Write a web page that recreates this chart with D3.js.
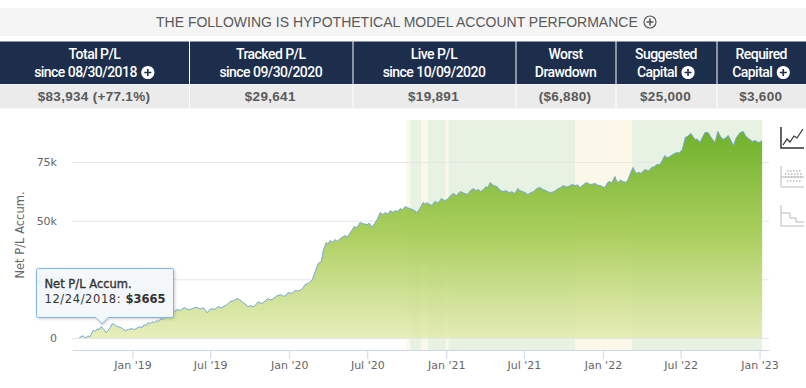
<!DOCTYPE html>
<html>
<head>
<meta charset="utf-8">
<script src="https://cdnjs.cloudflare.com/ajax/libs/d3/7.8.5/d3.min.js"></script>
<style>
	body { margin: 0; background: #fff; overflow: hidden; }
	svg { display: block; }
	.axisText { font-family: "DejaVu Sans", sans-serif; font-size: 11px; fill: #666; }
</style>
</head>
<body>
<div class="container"></div>
<script>
const WIDTH = 806
	, HEIGHT = 388
	, PLOT_LEFT = 72
	, PLOT_RIGHT = 769
	, PLOT_TOP = 120
	, AXIS_Y = 350
	, ZERO_Y = 338
	, TOP_TICK_Y = 162;

const headTitle = "THE FOLLOWING IS HYPOTHETICAL MODEL ACCOUNT PERFORMANCE";
const columnEdges = [0, 189, 352.5, 515.5, 615.5, 716.5, 806];
const headLine1 = ["Total P/L", "Tracked P/L", "Live P/L", "Worst", "Suggested", "Required"];
const headLine2 = ["since 08/30/2018", "since 09/30/2020", "since 10/09/2020", "Drawdown", "Capital", "Capital"];
const headHasIcon = [true, false, false, false, true, true];
const headValues = ["$83,934 (+77.1%)", "$29,641", "$19,891", "($6,880)", "$25,000", "$3,600"];

const tickDates = ["2019-01-01", "2019-07-01", "2020-01-01", "2020-07-01", "2021-01-01", "2021-07-01", "2022-01-01", "2022-07-01", "2023-01-01"];
const yTicks = [0, 25000, 50000, 75000];
const yTickLabels = ["0", "25k", "50k", "75k"];

const bandStarts = ["2020-09-30", "2020-10-09", "2020-11-04", "2020-11-19", "2020-12-31", "2021-01-06", "2021-10-28", "2022-03-10"];
const bandEnds = ["2020-10-09", "2020-11-04", "2020-11-19", "2020-12-31", "2021-01-06", "2021-10-28", "2022-03-10", "2023-01-07"];
const bandKinds = ["y", "g", "y", "g", "y", "g", "y", "g"];

const dates = [
	"2018-08-30", "2018-09-03", "2018-09-08", "2018-09-11", "2018-09-15", "2018-09-19", "2018-09-24", "2018-10-01", "2018-10-06", "2018-10-11",
	"2018-10-15", "2018-10-20", "2018-10-26", "2018-11-01", "2018-11-05", "2018-11-10", "2018-11-14", "2018-11-18", "2018-11-23", "2018-11-29",
	"2018-12-07", "2018-12-15", "2018-12-23", "2019-01-01", "2019-01-05", "2019-01-09", "2019-01-14", "2019-01-18", "2019-01-23", "2019-01-28",
	"2019-02-02", "2019-02-06", "2019-02-11", "2019-02-15", "2019-02-21", "2019-02-27", "2019-03-03", "2019-03-08", "2019-03-12", "2019-03-17",
	"2019-03-21", "2019-03-26", "2019-04-01", "2019-04-06", "2019-04-12", "2019-04-17", "2019-04-22", "2019-04-27", "2019-05-03", "2019-05-08",
	"2019-05-14", "2019-05-20", "2019-05-26", "2019-06-01", "2019-06-08", "2019-06-15", "2019-06-19", "2019-06-24", "2019-06-29", "2019-07-05",
	"2019-07-12", "2019-07-19", "2019-07-27", "2019-08-05", "2019-08-10", "2019-08-16", "2019-08-24", "2019-09-01", "2019-09-07", "2019-09-13",
	"2019-09-20", "2019-09-27", "2019-10-03", "2019-10-09", "2019-10-15", "2019-10-21", "2019-10-25", "2019-10-30", "2019-11-06", "2019-11-13",
	"2019-11-19", "2019-11-25", "2019-12-03", "2019-12-12", "2019-12-18", "2019-12-24", "2019-12-29", "2020-01-07", "2020-01-15", "2020-01-23",
	"2020-02-01", "2020-02-07", "2020-02-15", "2020-02-24", "2020-03-02", "2020-03-06", "2020-03-09", "2020-03-16", "2020-03-20", "2020-03-27",
	"2020-04-01", "2020-04-05", "2020-04-11", "2020-04-17", "2020-04-22", "2020-04-28", "2020-05-04", "2020-05-10", "2020-05-15", "2020-05-21",
	"2020-05-26", "2020-06-01", "2020-06-07", "2020-06-14", "2020-06-22", "2020-06-30", "2020-07-06", "2020-07-12", "2020-07-18", "2020-07-24",
	"2020-07-31", "2020-08-06", "2020-08-12", "2020-08-18", "2020-08-24", "2020-08-30", "2020-09-04", "2020-09-10", "2020-09-16", "2020-09-22",
	"2020-09-27", "2020-10-03", "2020-10-08", "2020-10-16", "2020-10-25", "2020-11-01", "2020-11-08", "2020-11-13", "2020-11-17", "2020-11-23",
	"2020-11-29", "2020-12-05", "2020-12-13", "2020-12-21", "2020-12-28", "2021-01-03", "2021-01-10", "2021-01-17", "2021-01-25", "2021-02-02",
	"2021-02-10", "2021-02-19", "2021-02-26", "2021-03-05", "2021-03-11", "2021-03-17", "2021-03-21", "2021-03-26", "2021-04-04", "2021-04-08",
	"2021-04-13", "2021-04-21", "2021-04-29", "2021-05-06", "2021-05-13", "2021-05-20", "2021-05-27", "2021-06-03", "2021-06-10", "2021-06-17",
	"2021-06-22", "2021-06-28", "2021-07-04", "2021-07-10", "2021-07-17", "2021-07-24", "2021-07-31", "2021-08-07", "2021-08-14", "2021-08-21",
	"2021-08-28", "2021-09-04", "2021-09-10", "2021-09-16", "2021-09-24", "2021-10-01", "2021-10-08", "2021-10-15", "2021-10-21", "2021-10-28",
	"2021-11-03", "2021-11-09", "2021-11-16", "2021-11-23", "2021-12-03", "2021-12-14", "2021-12-20", "2021-12-26", "2022-01-01", "2022-01-06",
	"2022-01-10", "2022-01-15", "2022-01-22", "2022-01-29", "2022-02-01", "2022-02-05", "2022-02-11", "2022-02-17", "2022-02-24", "2022-03-01",
	"2022-03-06", "2022-03-12", "2022-03-17", "2022-03-21", "2022-03-26", "2022-03-31", "2022-04-04", "2022-04-09", "2022-04-17", "2022-04-25",
	"2022-05-01", "2022-05-07", "2022-05-14", "2022-05-20", "2022-05-25", "2022-05-31", "2022-06-06", "2022-06-14", "2022-06-22", "2022-06-28",
	"2022-07-05", "2022-07-12", "2022-07-18", "2022-07-25", "2022-07-30", "2022-08-04", "2022-08-09", "2022-08-15", "2022-08-21", "2022-08-27",
	"2022-09-03", "2022-09-11", "2022-09-19", "2022-09-26", "2022-10-02", "2022-10-08", "2022-10-14", "2022-10-20", "2022-10-26", "2022-11-01",
	"2022-11-08", "2022-11-13", "2022-11-17", "2022-11-24", "2022-11-29", "2022-12-03", "2022-12-09", "2022-12-15", "2022-12-22", "2022-12-29",
	"2023-01-03", "2023-01-07"
];
const netPL = [
	130, 550, 980, 300, 130, 900, 550, 3100, 2900, 3970,
	3500, 4820, 3600, 2260, 3300, 4390, 5900, 6100, 5200, 4820,
	4200, 3110, 3665, 3970, 3500, 3970, 4500, 4820, 4400, 5670,
	5300, 6530, 6100, 6950, 6600, 7380, 7100, 8230, 7900, 8660,
	9100, 9940, 10000, 10790, 11900, 12070, 11700, 12500, 12900, 12290,
	12000, 12500, 13000, 12930, 12400, 12930, 12000, 10790, 11900, 12500,
	12200, 13350, 12900, 13780, 14300, 15490, 15900, 16770, 16400, 15490,
	14500, 13350, 13800, 13350, 14100, 15490, 15000, 14630, 15800, 16770,
	16200, 16770, 17900, 18470, 17800, 18040, 19320, 19000, 20180, 20000,
	21030, 22740, 23300, 24870, 28410, 30600, 31820, 32670, 36820, 40650,
	39900, 41500, 40900, 41930, 41200, 42150, 43000, 43640, 42900, 44490,
	45900, 47480, 47000, 49190, 48700, 48330, 48900, 47050, 48800, 50470,
	53450, 52600, 53450, 52800, 54310, 53500, 54310, 53900, 55160, 54600,
	56020, 55500, 55160, 54600, 53450, 55300, 57720, 57000, 57720, 56900,
	56440, 58150, 57500, 59430, 58500, 59000, 60400, 61560, 60700, 62410,
	61800, 61130, 62700, 63690, 62800, 63260, 62400, 62840, 64540, 64000,
	66250, 65000, 64540, 63000, 62410, 62800, 61990, 62300, 61560, 63690,
	62700, 62410, 61900, 61130, 61900, 62410, 63700, 64120, 63300, 62840,
	62100, 61990, 62500, 63260, 64100, 64970, 64300, 64760, 65400, 64970,
	65200, 64120, 65200, 66250, 65400, 65820, 65100, 64970, 64300, 64120,
	65700, 66680, 66200, 68810, 67300, 66250, 67300, 66680, 66250, 67700,
	70090, 72650, 70900, 70090, 70700, 70090, 71000, 71800, 71200, 72650,
	73000, 73930, 73930, 75800, 77770, 76800, 77340, 78300, 79040, 78800,
	80320, 85440, 86000, 87150, 85800, 84590, 84800, 83310, 85500, 87580,
	87580, 85200, 83310, 88000, 85900, 84590, 85300, 86300, 84300, 82030,
	85440, 86600, 87580, 88000, 86300, 85440, 84700, 83740, 84200, 83310,
	83600, 84170
];

var parseDate = d3.utcParse("%Y-%m-%d");

var translate = function (x, y) {
	return "translate(" + x + "," + y + ")";
};

var svg = d3.select('.container').append('svg')
	.attr('width', WIDTH)
	.attr('height', HEIGHT);

var _xScale = d3.scaleUtc()
	.domain([parseDate("2018-08-13"), parseDate("2023-01-23")])
	.range([PLOT_LEFT, PLOT_RIGHT]);
var _yScale = d3.scaleLinear()
	.domain([0, 75000])
	.range([ZERO_Y, TOP_TICK_Y]);

var addPlus = function (cx, cy, circleFill, circleStroke, plusColor) {
	var g = svg.append('g').attr('transform', translate(cx, cy));
	g.append('circle').attr('r', 6).attr('fill', circleFill).attr('stroke', circleStroke).attr('stroke-width', 1.2);
	g.append('path').attr('d', 'M-3.5,0H3.5M0,-3.5V3.5').attr('stroke', plusColor).attr('stroke-width', 1.6);
};

var drawHeader = function () {
	svg.append('rect').attr('x', 0).attr('y', 8).attr('width', WIDTH).attr('height', 28).attr('fill', '#f5f5f5');
	svg.append('text')
		.attr('x', 156).attr('y', 27)
		.attr('font-family', '"Liberation Sans", Arial, sans-serif')
		.attr('font-size', 14)
		.attr('fill', '#595959')
		.text(headTitle);
	addPlus(650, 22, 'none', '#595959', '#595959');

	headLine1.forEach(function (label, i) {
		var x0 = columnEdges[i], x1 = columnEdges[i + 1], mid = (x0 + x1) / 2;
		svg.append('rect').attr('x', x0 + (i ? 1 : 0)).attr('y', 41.5).attr('width', x1 - x0 - (i ? 1 : 0)).attr('height', 42.5).attr('fill', '#1d2d4c');
		svg.append('rect').attr('x', x0 + (i ? 1 : 0)).attr('y', 84.5).attr('width', x1 - x0 - (i ? 1 : 0)).attr('height', 24).attr('fill', '#ebebeb');
		var iconShift = headHasIcon[i] ? 9 : 0;
		svg.append('text')
			.attr('x', mid).attr('y', 59)
			.attr('text-anchor', 'middle')
			.attr('font-family', 'Roboto, sans-serif')
			.attr('font-size', 14)
			.attr('font-weight', 500)
			.attr('letter-spacing', -0.55)
			.attr('fill', '#fff')
			.text(label);
		var line2 = svg.append('text')
			.attr('x', mid - iconShift).attr('y', 77)
			.attr('text-anchor', 'middle')
			.attr('font-family', 'Roboto, sans-serif')
			.attr('font-size', 14)
			.attr('font-weight', 500)
			.attr('letter-spacing', -0.55)
			.attr('fill', '#fff')
			.text(headLine2[i]);
		if (headHasIcon[i]) {
			addPlus(mid - iconShift + line2.node().getComputedTextLength() / 2 + 11, 72.5, '#fff', '#fff', '#1d2d4c');
		}
		svg.append('text')
			.attr('x', mid - 0.5).attr('y', 101)
			.attr('text-anchor', 'middle')
			.attr('font-family', '"Liberation Sans", Arial, sans-serif')
			.attr('font-size', 13.5)
			.attr('font-weight', 700)
			.attr('letter-spacing', 0.3)
			.attr('fill', '#595959')
			.text(headValues[i]);
	});
};

var drawBands = function () {
	var colors = { g: '#e7f2e2', y: '#fcf8e9' };
	svg.append('g').selectAll('rect').data(bandKinds).enter().append('rect')
		.attr('x', function (kind, i) { return _xScale(parseDate(bandStarts[i])); })
		.attr('width', function (kind, i) { return _xScale(parseDate(bandEnds[i])) - _xScale(parseDate(bandStarts[i])); })
		.attr('y', PLOT_TOP)
		.attr('height', AXIS_Y - PLOT_TOP)
		.attr('fill', function (kind) { return colors[kind]; });
};

var drawAxis = function () {
	var yAxis = d3.axisLeft(_yScale)
		.tickValues(yTicks)
		.tickSize(0)
		.tickPadding(0)
		.tickFormat(function (value, i) { return yTickLabels[i]; });
	var yG = svg.append('g')
		.attr('transform', translate(57, 0))
		.call(yAxis);
	yG.select('.domain').remove();
	yG.selectAll('text').attr('class', 'axisText');
	yG.selectAll('.tick').append('line')
		.attr('x1', PLOT_LEFT - 57)
		.attr('x2', PLOT_RIGHT - 57)
		.attr('stroke', '#e6e6e6');

	var xAxis = d3.axisBottom(_xScale)
		.tickValues(tickDates.map(parseDate))
		.tickSize(9)
		.tickSizeOuter(0)
		.tickPadding(2)
		.tickFormat(d3.utcFormat("%b '%y"));
	var xG = svg.append('g')
		.attr('transform', translate(0, AXIS_Y))
		.call(xAxis);
	xG.select('.domain').attr('stroke', '#ccd6eb');
	xG.selectAll('line').attr('stroke', '#ccd6eb');
	xG.selectAll('text').attr('class', 'axisText');

	svg.append('text')
		.attr('class', 'axisText')
		.attr('transform', translate(24, 235) + ' rotate(-90)')
		.attr('text-anchor', 'middle')
		.style('font-size', '11.5px')
		.text('Net P/L Accum.');
};

var drawSeries = function () {
	var defs = svg.append('defs');
	var gradient = defs.append('linearGradient')
		.attr('id', 'areaFill')
		.attr('gradientUnits', 'userSpaceOnUse')
		.attr('x1', 0).attr('x2', 0)
		.attr('y1', 132).attr('y2', ZERO_Y);
	gradient.append('stop').attr('offset', 0).attr('stop-color', '#6cb027').attr('stop-opacity', 0.97);
	gradient.append('stop').attr('offset', 0.5).attr('stop-color', '#a5cb52').attr('stop-opacity', 0.92);
	gradient.append('stop').attr('offset', 1).attr('stop-color', '#e3ebaf').attr('stop-opacity', 0.85);

	var x = function (d, i) { return _xScale(parseDate(dates[i])); };
	var y = function (d) { return _yScale(d); };
	svg.append('path')
		.attr('d', d3.area().x(x).y0(ZERO_Y).y1(y)(netPL))
		.attr('fill', 'url(#areaFill)');
	svg.append('path')
		.attr('d', d3.line().x(x).y(y)(netPL))
		.attr('fill', 'none')
		.attr('stroke', '#74a8d8')
		.attr('stroke-width', 1);
};

var drawTooltip = function () {
	var defs = svg.append('defs');
	var shadow = defs.append('filter').attr('id', 'tipShadow').attr('x', '-10%').attr('y', '-10%').attr('width', '120%').attr('height', '130%');
	shadow.append('feDropShadow').attr('dx', 1).attr('dy', 1).attr('stdDeviation', 1.5).attr('flood-color', '#000').attr('flood-opacity', 0.2);
	var g = svg.append('g');
	g.append('path')
		.attr('d', 'M38.5,268.5H171.5Q173.5,268.5 173.5,270.5V315.5Q173.5,317.5 171.5,317.5H108L102,324L96,317.5H38.5Q36.5,317.5 36.5,315.5V270.5Q36.5,268.5 38.5,268.5Z')
		.attr('fill', 'rgba(245,249,252,0.92)')
		.attr('stroke', '#7cb5ec')
		.attr('filter', 'url(#tipShadow)');
	var text = g.append('text').attr('font-family', '"DejaVu Sans", sans-serif').attr('fill', '#333').attr('font-size', 11.5);
	text.append('tspan').attr('x', 44.5).attr('y', 288).attr('stroke', '#333').attr('stroke-width', 0.35).text('Net P/L Accum.');
	text.append('tspan').attr('x', 44.5).attr('y', 303).attr('letter-spacing', 0.6).text('12/24/2018: ');
	text.append('tspan').attr('font-weight', 700).text('$3665');
};

var drawIcons = function () {
	var g = svg.append('g').attr('fill', 'none');
	g.append('path').attr('d', 'M781,127V148H804').attr('stroke', '#333').attr('stroke-width', 1.5);
	g.append('path').attr('d', 'M783,145L787,139L790,142L794,136L797,138L803,129').attr('stroke', '#333').attr('stroke-width', 1.2);
	g.append('path').attr('d', 'M781,166V187H804M781,177H804').attr('stroke', '#bbb');
	g.append('path').attr('d', 'M785,174h18M785,177h18M787,171h14M787,181h14').attr('stroke', '#bbb').attr('stroke-dasharray', '1.5 1.5').attr('stroke-width', 1.5);
	g.append('path').attr('d', 'M781,205V226H804').attr('stroke', '#bbb');
	g.append('path').attr('d', 'M781,213H790V218H796V222H804').attr('stroke', '#bbb');
};

window.onload = function () {
	drawHeader();
	drawBands();
	drawAxis();
	drawSeries();
	drawTooltip();
	drawIcons();
};
</script>
</body>
</html>
